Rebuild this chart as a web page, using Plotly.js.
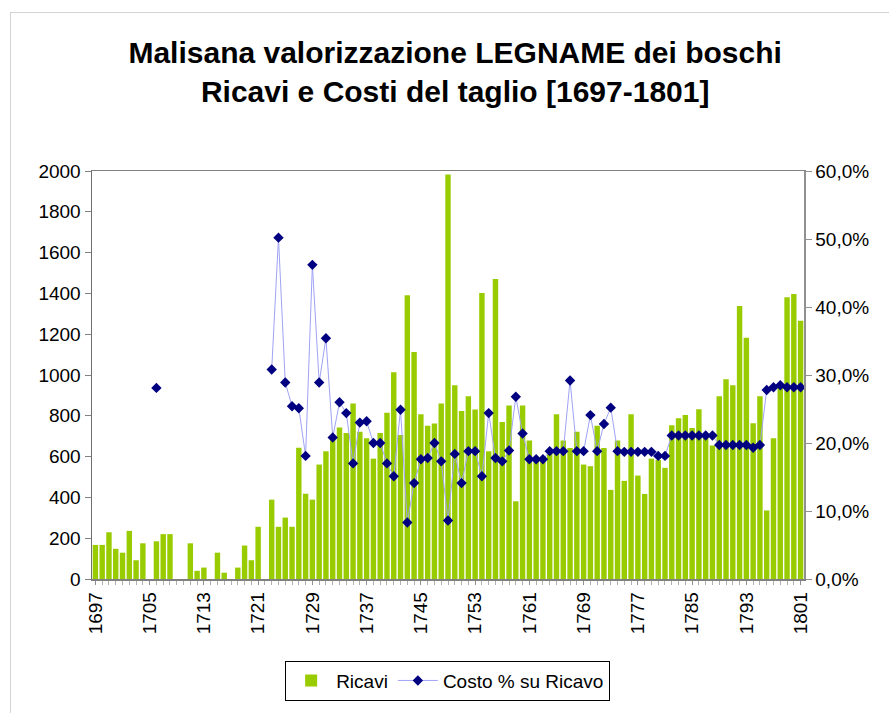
<!DOCTYPE html>
<html>
<head>
<meta charset="utf-8">
<script src="https://cdn.plot.ly/plotly-3.0.1.min.js"></script>
<style>
  html, body { margin: 0; padding: 0; background: #fff; }
  #wrap { position: relative; width: 889px; height: 713px; overflow: hidden; }
  #chart { position: absolute; left: 0; top: 0; width: 889px; height: 713px; }
  #frame { position: absolute; left: 10px; top: 12px; width: 900px; height: 720px;
           border: 1px solid #d4d4d4; pointer-events: none; }
</style>
</head>
<body>
<div id="wrap">
  <div id="chart"></div>
  <div id="frame"></div>
</div>
<script>
// Years 1697-1801
const years = [];
for (let y = 1697; y <= 1801; y++) years.push(y);

// Ricavi (left axis)
const ricavi = [
  167, 167, 229, 148, 129, 236, 92, 175, null, 185,       // 1697-1706
  220, 220, null, null, 175, 40, 56, null, 129, 31,       // 1707-1716
  null, 56, 164, 92, 256, null, 389, 256, 301, 256,       // 1717-1726
  643, 418, 389, 561, 626, 695, 743, 716, 860, 722,       // 1727-1736
  690, 590, 716, 815, 1013, 706, 1391, 1113, 807, 751,    // 1737-1746
  762, 860, 1983, 950, 823, 896, 831, 1402, 626, 1471,    // 1747-1756
  770, 851, 381, 851, 679, 600, 600, 626, 807, 679,       // 1757-1766
  642, 722, 561, 553, 751, 642, 437, 679, 481, 807,       // 1767-1776
  507, 417, 590, 583, 545, 754, 788, 804, 740, 832,       // 1777-1786
  715, 655, 896, 979, 950, 1338, 1182, 764, 896, 336,     // 1787-1796
  690, 950, 1381, 1397, 1266                              // 1797-1801
];

// Costo % su Ricavo (right axis, percent)
const costoPct = [
  null, null, null, null, null, null, null, null, null, 28.1,   // 1697-1706
  null, null, null, null, null, null, null, null, null, null,   // 1707-1716
  null, null, null, null, null, null, 30.8, 50.2, 28.9, 25.4,   // 1717-1726
  25.1, 18.1, 46.2, 28.9, 35.4, 20.8, 26.0, 24.4, 17.0, 23.0,   // 1727-1736
  23.2, 20.0, 20.0, 17.0, 15.1, 24.9, 8.3, 14.1, 17.6, 17.8,    // 1737-1746
  20.0, 17.3, 8.6, 18.4, 14.1, 18.8, 18.8, 15.1, 24.4, 17.8,    // 1747-1756
  17.3, 18.9, 26.8, 21.4, 17.6, 17.6, 17.6, 18.8, 18.8, 18.8,   // 1757-1766
  29.2, 18.8, 18.8, 24.1, 18.8, 22.8, 25.2, 18.8, 18.7, 18.7,   // 1767-1776
  18.7, 18.7, 18.7, 18.1, 18.1, 21.1, 21.1, 21.1, 21.1, 21.1,   // 1777-1786
  21.1, 21.1, 19.7, 19.7, 19.7, 19.7, 19.7, 19.3, 19.7, 27.8,   // 1787-1796
  28.2, 28.5, 28.2, 28.2, 28.2                                  // 1797-1801
];

const leftTicks = [0, 200, 400, 600, 800, 1000, 1200, 1400, 1600, 1800, 2000];
const rightTicks = [0, 10, 20, 30, 40, 50, 60];
const rightTickText = rightTicks.map(v => v.toFixed(1).replace('.', ',') + '%');
const labelYears = [1697, 1705, 1713, 1721, 1729, 1737, 1745, 1753, 1761, 1769, 1777, 1785, 1793, 1801];

const FONT = '"Liberation Sans", Arial, sans-serif';

const traces = [
  {
    type: 'bar',
    name: 'Ricavi',
    x: years,
    y: ricavi,
    marker: { color: '#99CC00', line: { width: 0 } },
    yaxis: 'y'
  },
  {
    type: 'scatter',
    mode: 'lines+markers',
    name: 'Costo % su Ricavo',
    x: years,
    y: costoPct,
    yaxis: 'y2',
    connectgaps: false,
    line: { color: '#9fa3f5', width: 1 },
    marker: { symbol: 'diamond', color: '#000080', size: 8, line: { width: 0 } }
  }
];

const layout = {
  width: 889,
  height: 713,
  paper_bgcolor: '#ffffff',
  plot_bgcolor: '#ffffff',
  separators: ',.',
  font: { family: FONT, size: 19, color: '#000' },
  margin: { l: 92, r: 85, t: 171, b: 127 },
  bargap: 0.2,
  showlegend: true,
  title: {
    text: 'Malisana valorizzazione LEGNAME dei boschi<br>Ricavi e Costi del taglio [1697-1801]',
    font: { family: FONT, size: 30, weight: 'bold', color: '#000' },
    x: 0.512, xanchor: 'center', xref: 'container',
    y: 0.912, yanchor: 'top', yref: 'container'
  },
  xaxis: {
    type: 'linear',
    range: [1696.5, 1801.5],
    tickmode: 'array',
    tickvals: labelYears,
    ticktext: labelYears.map(String),
    tickangle: -90,
    ticks: 'outside',
    ticklen: 4,
    tickcolor: '#909090',
    minor: { tickmode: 'linear', tick0: 1697, dtick: 1, ticks: 'outside', ticklen: 4, tickcolor: '#b0b0b0', showgrid: false },
    showline: true,
    linecolor: '#808080',
    linewidth: 1.5,
    mirror: true,
    showgrid: false,
    zeroline: false,
    tickfont: { family: FONT, size: 19, color: '#000' }
  },
  yaxis: {
    range: [0, 2000],
    tickmode: 'array',
    tickvals: leftTicks,
    ticks: 'outside',
    ticklen: 6,
    tickcolor: '#808080',
    showline: true,
    linecolor: '#707070',
    linewidth: 1.5,
    showgrid: false,
    zeroline: false,
    tickfont: { family: FONT, size: 19, color: '#000' }
  },
  yaxis2: {
    overlaying: 'y',
    side: 'right',
    range: [0, 60],
    tickmode: 'array',
    tickvals: rightTicks,
    ticktext: rightTickText,
    ticks: 'outside',
    ticklen: 6,
    tickcolor: '#909090',
    showline: true,
    linecolor: '#909090',
    linewidth: 1.5,
    showgrid: false,
    zeroline: false,
    tickfont: { family: FONT, size: 19, color: '#000' }
  },
  legend: {
    orientation: 'h',
    x: 0.4995, xanchor: 'center', xref: 'paper',
    y: -0.2, yanchor: 'top', yref: 'paper',
    bordercolor: '#000000',
    borderwidth: 1,
    bgcolor: '#ffffff',
    font: { family: FONT, size: 19, color: '#000' },
    traceorder: 'normal',
    itemwidth: 40
  }
};

Plotly.newPlot('chart', traces, layout, { displayModeBar: false, staticPlot: true });
</script>
</body>
</html>
